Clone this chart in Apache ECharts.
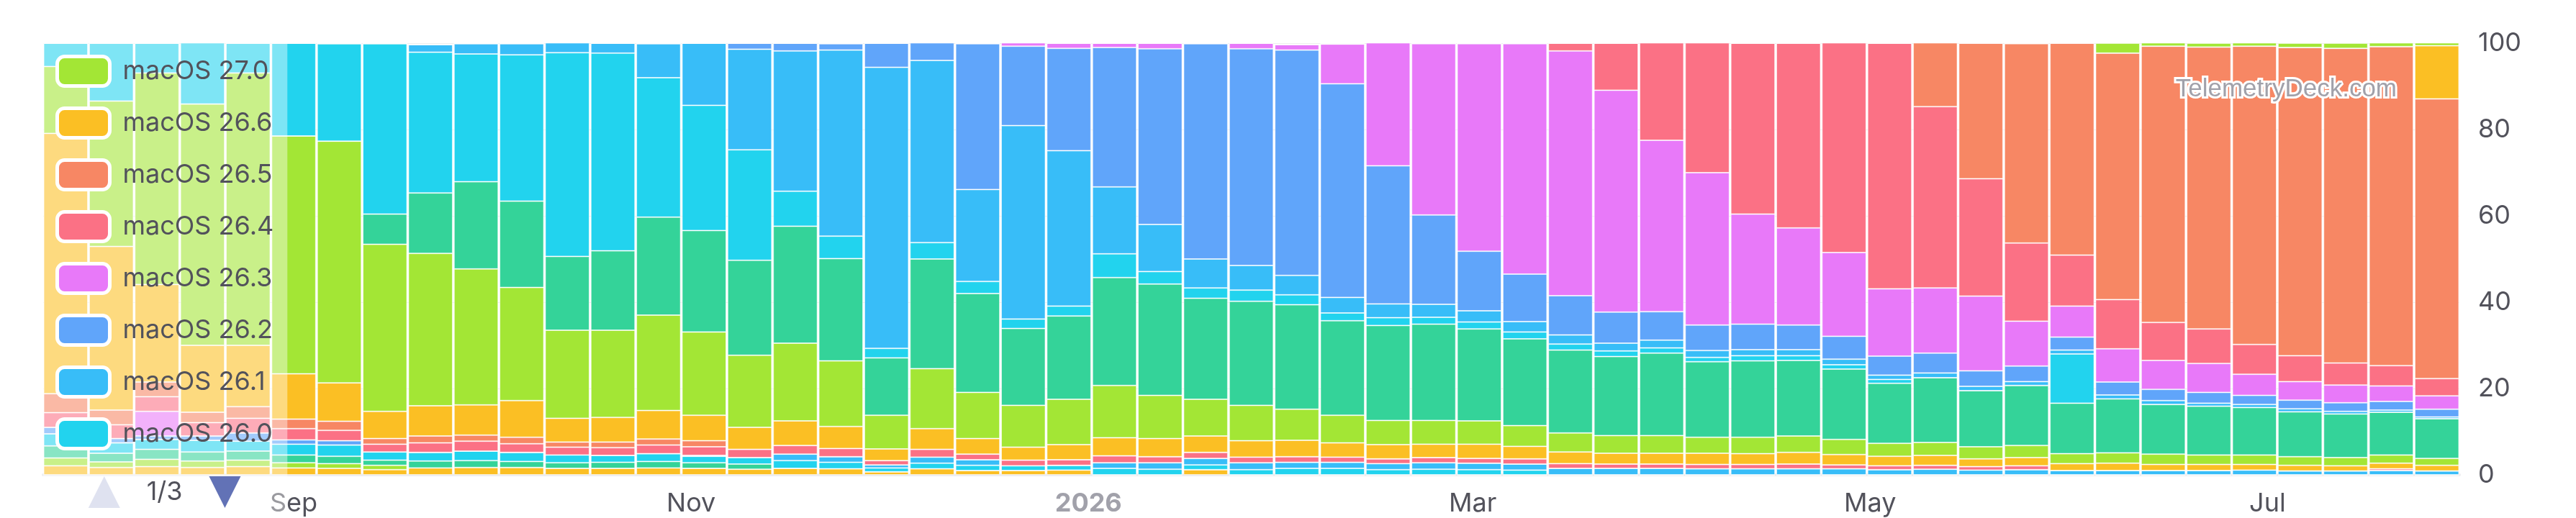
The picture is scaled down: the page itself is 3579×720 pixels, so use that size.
<!DOCTYPE html>
<html>
<head>
<meta charset="utf-8">
<script src="https://cdn.jsdelivr.net/npm/echarts@6/dist/echarts.min.js"></script>
<style>
html,body{margin:0;padding:0;background:#ffffff;}
#chart{width:3579px;height:720px;}
</style>
</head>
<body>
<div id="chart"></div>
<script>
// Week starts (Mondays)
const weeks = [
'2025-07-28','2025-08-04','2025-08-11','2025-08-18','2025-08-25','2025-09-01','2025-09-08','2025-09-15','2025-09-22','2025-09-29',
'2025-10-06','2025-10-13','2025-10-20','2025-10-27','2025-11-03','2025-11-10','2025-11-17','2025-11-24','2025-12-01','2025-12-08',
'2025-12-15','2025-12-22','2025-12-29','2026-01-05','2026-01-12','2026-01-19','2026-01-26','2026-02-02','2026-02-09','2026-02-16',
'2026-02-23','2026-03-02','2026-03-09','2026-03-16','2026-03-23','2026-03-30','2026-04-06','2026-04-13','2026-04-20','2026-04-27',
'2026-05-04','2026-05-11','2026-05-18','2026-05-25','2026-06-01','2026-06-08','2026-06-15','2026-06-22','2026-06-29','2026-07-06',
'2026-07-13','2026-07-20','2026-07-27'
];

// Share per week (%), legend order (top of stack first)
const v27_0 = [0,0,0,0,0,0,0,0,0,0, 0,0,0,0,0,0,0,0,0,0, 0,0,0,0,0,0,0,0,0,0, 0,0,0,0,0,0,0,0,0,0, 0,0,0,0,0,2.3,0.8,0.9,0.9,1.0, 1.2,1.3,1.1];
const v26_6 = [0,0,0,0,0,0,0,0,0,0, 0,0,0,0,0,0,0,0,0,0, 0,0,0,0,0,0,0,0,0,0, 0,0,0,0,0,0,0,0,0,0, 0,0,0,0,0,0,0,0,0,0, 0,0,12.3];
const v26_5 = [0,0,0,0,0,0,0,0,0,0, 0,0,0,0,0,0,0,0,0,0, 0,0,0,0,0,0,0,0,0,0, 0,0,0,0,0,0,0,0,0,0, 0,14.9,31.4,46.2,49.1,57.1,64.0,65.3,69.1,71.4, 72.9,73.9,64.8];
const v26_4 = [0,0,0,0,0,0,0,0,0,0, 0,0,0,0,0,0,0,0,0,0, 0,0,0,0,0,0,0,0,0,0, 0,0,0,1.8,10.9,22.6,30.1,39.6,42.8,48.6, 56.9,42.0,27.2,18.1,11.8,11.4,8.8,8.0,6.9,6.0, 5.1,4.7,4.0];
const v26_3 = [0,0,0,0,0,0,0,0,0,0, 0,0,0,0,0,0,0,0,0,0, 0,0.9,1.2,1.0,1.3,0,1.3,1.3,9.2,28.5, 39.7,48.1,53.4,56.7,51.4,39.7,35.3,25.5,22.5,19.4, 15.6,15.1,17.3,10.4,7.2,7.7,6.7,6.7,4.9,4.3, 4.1,3.6,3.1];
const v26_2 = [0,0,0,0,0,0,0,0,0,0, 0,0,0,0,0,1.4,1.8,1.5,5.6,4.2, 33.8,18.4,23.7,32.3,40.7,49.9,50.2,52.2,49.5,32.0, 20.7,13.8,11.0,9.1,7.2,6.6,5.9,5.9,5.7,5.3, 4.4,4.6,3.6,3.6,3.0,3.0,2.6,2.5,2.1,2.0, 2.0,2.0,1.8];
const v26_1 = [0,0,0,0,0,0,0,0,1.8,2.4, 2.6,2.3,2.3,7.9,14.4,23.3,32.5,43.1,65.1,42.2, 21.3,44.8,36.0,15.5,10.9,6.7,5.7,4.5,3.6,3.2, 3.0,2.6,2.4,2.1,1.8,1.8,1.6,1.4,1.4,1.3, 1.0,1.1,1.0,0.9,0.9,0.9,0.9,0.7,0.7,0.7, 0.6,0.5,0.4];
const v26_0 = [5.4,13.4,6.9,14.2,6.9,21.5,22.6,39.5,32.6,29.6, 33.9,47.2,45.8,32.3,29.0,25.6,8.1,5.2,2.2,3.8, 2.8,2.2,2.3,5.5,2.9,2.4,2.6,2.3,1.8,1.8, 1.6,1.6,1.6,1.4,1.3,1.2,1.0,1.2,1.1,1.0, 0.9,0,0,0,11.4,0,0,0,0,0, 0,0,0];
const v15_7 = [0,0,0,0,0,0,0,7.0,14.0,20.2, 20.0,17.1,18.4,22.7,23.5,22.0,27.1,23.7,13.3,25.4, 22.9,17.8,19.3,25.0,25.8,23.4,24.1,24.2,21.9,22.0, 22.3,21.3,20.1,19.2,18.3,19.1,17.5,17.7,17.5,16.3, 13.9,15.0,13.0,13.9,11.7,12.5,11.5,11.3,11.0,10.4, 10.1,9.9,9.2];
const v15_6 = [15.5,33.7,49.0,55.9,63.1,55.1,56.0,38.7,35.3,31.5, 26.2,20.4,20.2,22.1,19.3,16.7,18.0,15.2,7.8,13.9, 10.7,9.7,10.5,12.1,10.0,8.5,8.2,7.2,6.4,5.6, 5.5,5.4,4.8,4.4,4.1,4.1,3.7,3.8,3.8,3.5, 3.0,3.0,2.8,2.8,2.3,2.4,2.4,2.2,2.2,2.0, 1.9,1.9,1.6];
const v15_5 = [60.3,37.9,22.6,15.5,14.2,10.5,8.9,6.3,7.0,7.0, 8.5,5.5,5.7,6.6,5.9,5.1,5.7,5.1,2.7,4.8, 3.6,3.0,3.5,4.2,4.2,3.8,3.8,3.8,3.3,3.3, 3.1,3.3,2.9,2.7,2.5,2.5,2.6,2.5,2.7,2.4, 2.2,2.3,1.8,1.9,1.6,1.7,1.4,1.4,1.3,1.3, 1.2,1.3,1.3];
const v15_4 = [4.4,3.4,3.4,2.4,2.7,2.2,2.1,1.3,1.6,1.4, 1.5,1.2,1.3,1.4,1.4,0,0,0,0,0, 0,0,0,0,0,0,0,0,0,0, 0,0,0,0,0,0,0,0,0,0, 0,0,0,0,0,0,0,0,0,0, 0,0,0];
const v15_3 = [3.4,3.2,3.4,3.1,3.4,2.6,2.4,1.8,2.2,2.3, 2.0,1.8,1.8,2.0,2.0,1.9,2.0,1.9,1.0,1.8, 1.3,1.3,1.3,1.6,1.4,1.4,1.3,1.3,1.2,1.1, 1.2,1.1,1.2,1.1,1.0,1.0,1.0,1.0,1.1,0.9, 0.9,0.9,0.8,0.9,0,0,0,0,0,0, 0,0.4,0];
const v15_2 = [0,0,5.7,0,0,0,0,0,0,0, 0,0,0,0,0,0,0,0,0,0, 0,0,0,0,0,0,0,0,0,0, 0,0,0,0,0,0,0,0,0,0, 0,0,0,0,0,0,0,0,0,0, 0,0,0];
const v15_1 = [1.5,1.0,0.8,1.0,1.9,1.0,1.0,0,0,0, 0,0,0,0,0.2,0,0,0,0,0, 0,0,0,0,0,0,0,0,0,0, 0,0,0,0,0,0,0,0,0,0, 0,0,0,0,0,0,0,0,0,0, 0,0,0];
const v15_0 = [0,0,0,0,0,0,0,0,0,0, 0,0,0,0,0,0,1.5,1.3,0.7,1.4, 1.3,0,0,1.3,1.5,1.5,1.6,1.4,1.4,1.4, 1.5,1.5,1.4,1.5,1.5,1.5,1.4,1.4,1.4,1.4, 1.2,1.3,1.1,1.2,1.0,1.0,1.0,1.0,1.1,0.9, 0.9,1.0,0.9];
const v14_7 = [2.8,2.4,2.3,2.7,2.3,2.5,2.6,1.9,2.0,2.2, 2.1,1.8,1.6,1.8,1.5,1.5,1.8,1.5,0.9,1.3, 1.2,1.1,1.1,1.5,1.3,1.1,1.2,1.5,1.5,1.2, 1.3,1.2,1.1,0,0,0,0,0,0,0, 0,0,0,0,0,0,0,0,0,0, 0,0,0];
const v14_6 = [2.8,2.0,2.3,2.1,2.1,1.8,1.7,1.2,1.6,1.6, 1.4,1.3,1.4,1.5,1.3,1.2,0,0,0,0, 0,0,0,0,0,0,0,0,0,0, 0,0,0,0,0,0,0,0,0,0, 0,0,0,0,0,0,0,0,0,0, 0,0,0];
const v14_5 = [1.8,1.3,1.7,1.5,1.5,1.2,1.1,1.0,0,0, 0,0,0,0,0,0,0,0,0,0, 0,0,0,0,0,0,0,0,0,0, 0,0,0,0,0,0,0,0,0,0, 0,0,0,0,0,0,0,0,0,0, 0,0,0];
const v14_4 = [2.1,1.7,1.9,1.7,1.9,1.6,1.5,1.2,1.6,1.7, 1.7,1.5,1.5,1.6,1.5,1.3,1.5,1.4,0.7,1.4, 1.0,1.0,1.1,0,0,1.2,0,0,0,0, 0,0,0,0,0,0,0,0,0,0, 0,0,0,0,0,0,0,0,0,0, 0,0,0];

const versionNames = ['macOS 27.0','macOS 26.6','macOS 26.5','macOS 26.4','macOS 26.3','macOS 26.2','macOS 26.1','macOS 26.0',
  'macOS 15.7','macOS 15.6','macOS 15.5','macOS 15.4','macOS 15.3','macOS 15.2','macOS 15.1','macOS 15.0',
  'macOS 14.7','macOS 14.6','macOS 14.5','macOS 14.4'];
const versionValues = [v27_0,v26_6,v26_5,v26_4,v26_3,v26_2,v26_1,v26_0,v15_7,v15_6,v15_5,v15_4,v15_3,v15_2,v15_1,v15_0,v14_7,v14_6,v14_5,v14_4];
const palette = ['#a3e635','#fbbf24','#f78764','#fb7185','#e879f9','#60a5fa','#38bdf8','#22d3ee','#34d399'];
const yTicks = [0,20,40,60,80,100];

const FONT = 'Inter, "Noto Sans", sans-serif';

const series = [];
for (let i = versionNames.length - 1; i >= 0; i--) {
  series.push({
    name: versionNames[i],
    type: 'bar',
    stack: 'share',
    barCategoryGap: '3%',
    itemStyle: { color: palette[i % palette.length], borderColor: 'rgba(255,255,255,0.55)', borderWidth: 1 },
    emphasis: { disabled: true },
    data: weeks.map((w, k) => [w, versionValues[i][k]])
  });
}

const chart = echarts.init(document.getElementById('chart'), null, { renderer: 'canvas' });
chart.setOption({
  animation: false,
  backgroundColor: '#ffffff',
  textStyle: { fontFamily: FONT },
  grid: { left: 60, right: 162, top: 60, bottom: 60, containLabel: false },
  xAxis: {
    type: 'time',
    // ECharts widens a time axis by the bar overflow itself, so the data range is enough
    min: +new Date(weeks[0] + 'T00:00:00'),
    max: +new Date(weeks[weeks.length - 1] + 'T00:00:00'),
    splitNumber: 5,
    axisLine: { show: true, lineStyle: { color: '#eeeef0', width: 4 } },
    axisTick: { show: false },
    splitLine: { show: false },
    axisLabel: {
      fontSize: 36, color: '#52525b', fontFamily: FONT, margin: 22,
      showMinLabel: false, showMaxLabel: false,
      formatter: { year: '{yr|{yyyy}}', month: '{MMM}', day: '{MMM}' },
      rich: { yr: { fontSize: 36, fontWeight: 'bold', color: '#a1a1aa', fontFamily: FONT } }
    }
  },
  yAxis: {
    type: 'value', position: 'right', min: 0, max: yTicks[yTicks.length - 1], interval: yTicks[1] - yTicks[0],
    axisLine: { show: false }, axisTick: { show: false },
    splitLine: { show: true, lineStyle: { color: '#eeeeee', width: 1 } },
    axisLabel: { fontSize: 36, color: '#52525b', fontFamily: FONT, margin: 26 }
  },
  legend: {
    type: 'scroll', orient: 'vertical', left: 60, top: 60,
    padding: [16, 19, 14, 17],
    backgroundColor: 'rgba(255,255,255,0.42)',
    data: versionNames,
    icon: 'roundRect',
    itemWidth: 73, itemHeight: 41, itemGap: 26,
    itemStyle: { borderColor: '#ffffff', borderWidth: 5 },
    textStyle: { fontSize: 36, color: '#52525b', fontFamily: FONT, padding: [0, 0, 0, 13] },
    pageIconSize: 44,
    pageButtonItemGap: 16,
    pageButtonGap: 20,
    pageIconColor: '#6272b6',
    pageIconInactiveColor: '#dfe2f0',
    pageTextStyle: { fontSize: 36, color: '#52525b', fontFamily: FONT }
  },
  graphic: [{
    type: 'text', right: 246, top: 104, z: 100,
    style: { text: 'TelemetryDeck.com', font: '35px "Liberation Sans", Arial, sans-serif', fill: '#a1a1aa', stroke: '#ffffff', lineWidth: 6 }
  }],
  series: series
});
</script>
</body>
</html>
